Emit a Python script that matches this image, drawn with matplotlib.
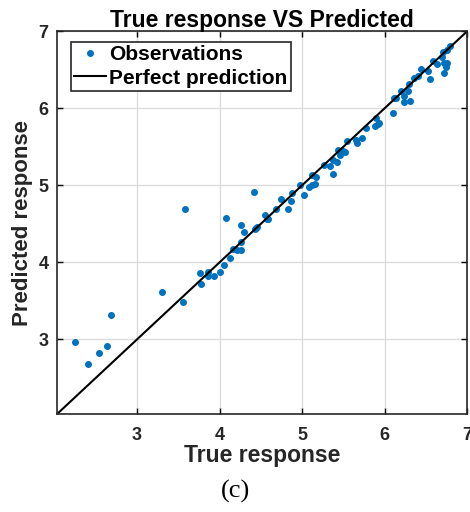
import matplotlib
matplotlib.use("Agg")
import matplotlib.pyplot as plt
import numpy as np

# valeurs
true_resp = [2.25, 2.41, 2.54, 2.64, 2.69, 3.30, 3.56, 3.58, 3.76, 3.77,
             3.86, 3.86, 3.93, 4.01, 4.05, 4.08, 4.13, 4.16, 4.21, 4.26,
             4.26, 4.26, 4.30, 4.43, 4.46, 4.42, 4.55, 4.59, 4.68, 4.75,
             4.83, 4.87, 4.88, 4.98, 5.02, 5.09, 5.12, 5.12, 5.16, 5.17,
             5.26, 5.34, 5.37, 5.38, 5.42, 5.43, 5.46, 5.49, 5.52, 5.54,
             5.65, 5.66, 5.73, 5.77, 5.88, 5.89, 5.92, 5.93, 6.10, 6.11,
             6.14, 6.20, 6.24, 6.24, 6.28, 6.31, 6.29, 6.36, 6.40, 6.44,
             6.52, 6.55, 6.58, 6.63, 6.69, 6.71, 6.72, 6.74, 6.72, 6.75,
             6.79, 6.76, 4.44, 4.58]
pred_resp = [2.97, 2.68, 2.82, 2.91, 3.32, 3.61, 3.49, 4.69, 3.86, 3.72,
             3.87, 3.83, 3.83, 3.88, 3.97, 4.57, 4.06, 4.17, 4.16, 4.16,
             4.49, 4.26, 4.40, 4.43, 4.46, 4.91, 4.62, 4.56, 4.69, 4.82,
             4.69, 4.80, 4.90, 5.01, 4.88, 4.98, 5.00, 5.14, 5.02, 5.11,
             5.27, 5.25, 5.15, 5.33, 5.30, 5.46, 5.40, 5.44, 5.43, 5.57,
             5.59, 5.55, 5.62, 5.75, 5.77, 5.87, 5.79, 5.81, 5.94, 6.13,
             6.14, 6.22, 6.16, 6.08, 6.23, 6.09, 6.32, 6.39, 6.42, 6.51,
             6.48, 6.38, 6.61, 6.57, 6.66, 6.73, 6.59, 6.54, 6.46, 6.59,
             6.81, 6.76, 4.45, 4.56]
lim = [2.03, 7.0]
ticks = [3, 4, 5, 6, 7]

fig = plt.figure(figsize=(4.7, 5.12), dpi=100)
ax = fig.add_axes([0.121, 0.191, 0.873, 0.748])

ax.plot(true_resp, pred_resp, '.', color='#0072BD', markersize=8, label='Observations')
ax.plot(lim, lim, '-', color='black', linewidth=1.5, label='Perfect prediction')

ax.set_xlim(lim)
ax.set_ylim(lim)
ax.set_xticks(ticks)
ax.set_yticks(ticks)
ax.grid(True, color='#dcdcdc', linewidth=1)
ax.set_axisbelow(True)
for s in ax.spines.values():
    s.set_linewidth(1.2)
    s.set_color('#262626')
ax.tick_params(direction='in', length=4, width=1, top=True, right=True,
               labelsize=13, pad=6)
ax.tick_params(axis='x', pad=9)
for lab in ax.get_xticklabels() + ax.get_yticklabels():
    lab.set_fontweight('bold')
    lab.set_family('Liberation Sans')
    lab.set_color('#262626')

font = {'family': 'Liberation Sans', 'weight': 'bold'}
ax.set_title('True response VS Predicted', fontdict=dict(font, size=16.5), pad=3)
ax.set_xlabel('True response', fontdict=dict(font, size=16.5), color='#262626', labelpad=0)
ax.set_ylabel('Predicted response', fontdict=dict(font, size=16), color='#262626', labelpad=4)

leg = ax.legend(loc='upper left', bbox_to_anchor=(0.034, 0.971), borderaxespad=0,
                prop=dict(font, size=15), frameon=True, fancybox=False,
                edgecolor='#262626', handlelength=1.55, borderpad=0.15, labelspacing=0.2,
                handletextpad=0.15, framealpha=1)
leg.get_frame().set_linewidth(1.2)

fig.text(0.5, 0.041, '(c)', ha='center', va='center', family='Liberation Serif', fontsize=19)

fig.savefig('out.png', dpi=100)
